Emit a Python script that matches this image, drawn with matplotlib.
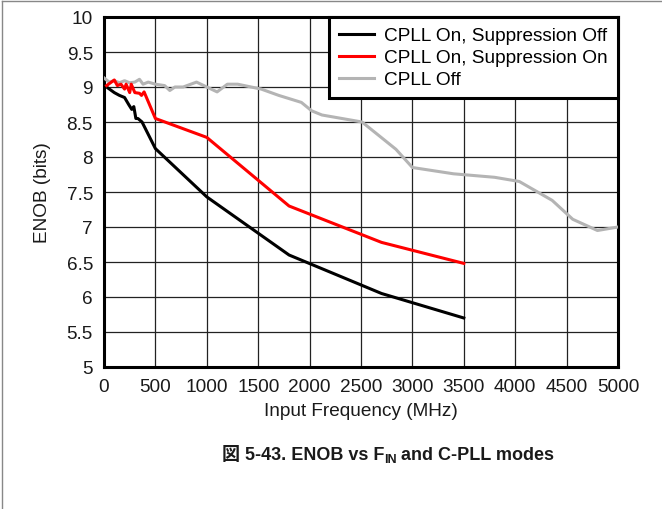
import matplotlib
matplotlib.use('Agg')
import matplotlib.pyplot as plt
from matplotlib.lines import Line2D

plt.rcParams['font.family'] = ['Liberation Sans', 'Noto Sans CJK JP', 'DejaVu Sans']

# CPLL On, Suppression Off
freq_off = [25, 100, 150, 200, 240, 270, 290, 310, 330, 370, 500, 1000, 1800, 2700, 3500]
enob_off = [9.0, 8.92, 8.88, 8.85, 8.75, 8.68, 8.72, 8.55, 8.55, 8.5, 8.12, 7.43, 6.6, 6.05, 5.7]

# CPLL On, Suppression On
freq_on = [25, 100, 130, 165, 200, 215, 250, 265, 300, 345, 365, 390, 500, 1000, 1800, 2700, 3500]
enob_on = [9.02, 9.1, 9.02, 9.04, 8.97, 9.04, 8.92, 9.04, 8.92, 8.91, 8.88, 8.93, 8.55, 8.28, 7.3,
           6.78, 6.48]

# CPLL Off
freq_pll_off = [0, 50, 100, 150, 200, 250, 300, 345, 380, 430, 500, 590, 640, 690, 770, 900, 1000,
                1100, 1200, 1300, 1530, 1700, 1920, 2020, 2120, 2510, 2840, 3000, 3400, 3800, 4040,
                4360, 4560, 4800, 5000]
enob_pll_off = [9.13, 9.07, 9.09, 9.06, 9.09, 9.06, 9.07, 9.11, 9.04, 9.07, 9.04, 9.02, 8.95, 9.0,
                9.0, 9.07, 9.0, 8.93, 9.04, 9.04, 8.97, 8.88, 8.78, 8.66, 8.6, 8.5, 8.11, 7.85, 7.76,
                7.71, 7.65, 7.38, 7.11, 6.95, 7.0]

x_ticks = list(range(0, 5001, 500))
y_ticks = [5, 5.5, 6, 6.5, 7, 7.5, 8, 8.5, 9, 9.5, 10]
y_tick_labels = ['5', '5.5', '6', '6.5', '7', '7.5', '8', '8.5', '9', '9.5', '10']

FS = 13.7

fig = plt.figure(figsize=(6.62, 5.10), dpi=100)
ax = fig.add_axes([104 / 662, 1 - 368 / 510, 514 / 662, 350 / 510])

ax.plot(freq_off, enob_off, color='black', lw=2.2, label='CPLL On, Suppression Off', zorder=4)
ax.plot(freq_on, enob_on, color='#ff0000', lw=2.2, label='CPLL On, Suppression On', zorder=4)
ax.plot(freq_pll_off, enob_pll_off, color='#b4b4b4', lw=2.2, label='CPLL Off', zorder=3)

ax.set_xlim(0, 5000)
ax.set_ylim(5, 10)
ax.set_xticks(x_ticks)
ax.set_yticks(y_ticks)
ax.set_yticklabels(y_tick_labels)
ax.tick_params(length=0, labelsize=FS, colors='#1a1a1a')
ax.tick_params(axis='x', pad=8)
ax.tick_params(axis='y', pad=8)
ax.grid(True, color='#222222', lw=0.9)
for s in ax.spines.values():
    s.set_linewidth(2.2)
    s.set_color('black')

ax.set_xlabel('Input Frequency (MHz)', fontsize=FS, color='#1a1a1a', labelpad=5)
ax.set_ylabel('ENOB (bits)', fontsize=FS, color='#1a1a1a', labelpad=11)

leg = ax.legend(loc='upper right', borderaxespad=0, fontsize=FS, fancybox=False, framealpha=1,
                handlelength=1.85, handletextpad=0.55, labelspacing=0.25, borderpad=0.52)
leg.get_frame().set_edgecolor('black')
leg.get_frame().set_linewidth(2.2)
leg.set_zorder(5)

# caption built from pieces so the subscript keeps the same font
cap_y = 1 - 455 / 510
cap_cx = 388
cap_fs = 13
parts = [('図 5-43. ENOB vs F', cap_fs, 0.0),
         ('IN', cap_fs * 0.7, -5.0),
         (' and C-PLL modes', cap_fs, 0.0)]
texts = []
for s, fs, dy in parts:
    texts.append(fig.text(0, cap_y + dy / 510, s, ha='left', va='center', fontsize=fs,
                          fontweight='bold', color='#1a1a1a'))
fig.canvas.draw()
renderer = fig.canvas.get_renderer()
widths = [t.get_window_extent(renderer).width for t in texts]
x0 = cap_cx - sum(widths) / 2
for t, w in zip(texts, widths):
    t.set_x(x0 / 662)
    x0 += w

# page border (left and top edges)
fig.add_artist(Line2D([0.003, 0.003], [0, 0.997], color='#888888', lw=1, transform=fig.transFigure))
fig.add_artist(Line2D([0.003, 1], [0.997, 0.997], color='#888888', lw=1, transform=fig.transFigure))

fig.savefig('out.png', dpi=100)
